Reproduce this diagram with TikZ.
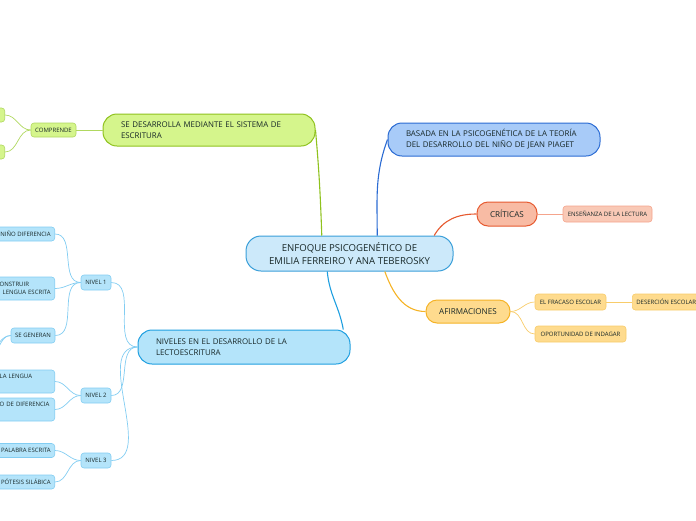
\documentclass[tikz,border=0pt]{standalone}
\usepackage{fontspec}
\setmainfont{Open Sans}
\usepackage{tikz}
\definecolor{inkdark}{RGB}{24,40,40}
\definecolor{rootfill}{RGB}{204,233,250}
\definecolor{rootline}{RGB}{58,159,217}
\definecolor{limefill}{RGB}{213,245,140}
\definecolor{limeline}{RGB}{143,194,30}
\definecolor{limeleaf}{RGB}{176,216,96}
\definecolor{skyfill}{RGB}{168,203,248}
\definecolor{skyline}{RGB}{43,107,211}
\definecolor{coralfill}{RGB}{248,187,164}
\definecolor{coralline}{RGB}{230,90,48}
\definecolor{coralleaf}{RGB}{245,164,140}
\definecolor{goldfill}{RGB}{254,219,142}
\definecolor{goldline}{RGB}{245,179,38}
\definecolor{goldleaf}{RGB}{248,204,106}
\definecolor{aquafill}{RGB}{180,228,250}
\definecolor{aqualine}{RGB}{31,159,224}
\definecolor{aqualeaf}{RGB}{130,205,242}

\begin{document}
\begin{tikzpicture}[
    x={(1pt,0pt)}, y={(0pt,-1pt)},
    root/.style={draw=rootline, fill=rootfill, line width=1pt, rounded corners=15pt, minimum width=207pt, minimum height=35pt, align=center, font=\fontsize{9.6}{13.5}\selectfont, text=inkdark},
    branch/.style={draw, line width=1pt, rounded corners=14pt, text width=176pt, inner xsep=18pt, minimum height=33pt, align=left, font=\fontsize{7.9}{11}\selectfont, text=inkdark},
    topic/.style={draw, line width=1pt, rounded corners=11pt, minimum height=23pt, align=center, font=\fontsize{8.1}{10}\selectfont, text=inkdark},
    leaf/.style={draw, line width=0.6pt, rounded corners=3pt, minimum height=15pt, inner xsep=4pt, inner ysep=2pt, align=left, font=\fontsize{6}{7.8}\selectfont, text=inkdark},
    link/.style={line width=1.1pt},
    twig/.style={line width=0.7pt},
]
\clip (0,0) rectangle (696,520);

\node[root] (enfoque) at (349.5,253.5) {ENFOQUE PSICOGENÉTICO DE\\EMILIA FERREIRO Y ANA TEBEROSKY};

% upper left branch
\node[branch, draw=limeline, fill=limefill, minimum height=32pt] (desarrolla) at (209,130) {SE DESARROLLA MEDIANTE EL SISTEMA DE\\ESCRITURA};
\node[leaf, draw=limeleaf, fill=limefill, minimum width=45pt, minimum height=14pt] (comprende) at (53.5,130) {COMPRENDE};
\node[leaf, draw=limeleaf, fill=limefill, minimum width=30pt, minimum height=14pt, anchor=east] (comp1) at (5,115) {};
\node[leaf, draw=limeleaf, fill=limefill, minimum width=30pt, minimum height=14pt, anchor=east] (comp2) at (5,152) {};

% upper right branches
\node[branch, draw=skyline, fill=skyfill] (basada) at (494,139.5) {BASADA EN LA PSICOGENÉTICA DE LA TEORÍA\\DEL DESARROLLO DEL NIÑO DE JEAN PIAGET};
\node[topic, draw=coralline, fill=coralfill, minimum width=60pt, minimum height=24pt] (criticas) at (507,214) {CRÍTICAS};
\node[leaf, draw=coralleaf, fill=coralfill!80!white, minimum width=89pt, minimum height=16pt] (ensenanza) at (607.5,214) {ENSEÑANZA DE LA LECTURA};

% afirmaciones
\node[topic, draw=goldline, fill=goldfill, minimum width=84pt] (afirm) at (468,311.5) {AFIRMACIONES};
\node[leaf, draw=goldleaf, fill=goldfill, minimum width=71pt, minimum height=16pt] (fracaso) at (570.5,302) {EL FRACASO ESCOLAR};
\node[leaf, draw=goldleaf, fill=goldfill, minimum width=91pt, minimum height=16pt] (indagar) at (580.5,334) {OPORTUNIDAD DE INDAGAR};
\node[leaf, draw=goldleaf, fill=goldfill, minimum height=16pt, anchor=west] (desercion) at (632,302) {DESERCIÓN ESCOLAR};

% niveles
\node[branch, draw=aqualine, fill=aquafill, minimum height=34pt] (niveles) at (244,347) {NIVELES EN EL DESARROLLO DE LA\\LECTOESCRITURA};
\node[leaf, draw=aqualeaf, fill=aquafill, minimum width=30pt] (nivel1) at (96,282.5) {NIVEL 1};
\node[leaf, draw=aqualeaf, fill=aquafill, minimum width=30pt] (nivel2) at (96,395.5) {NIVEL 2};
\node[leaf, draw=aqualeaf, fill=aquafill, minimum width=30pt] (nivel3) at (96,460.5) {NIVEL 3};

\node[leaf, draw=aqualeaf, fill=aquafill, minimum height=14pt, anchor=east] (diferencia) at (55,234) {NIÑO DIFERENCIA};
\node[leaf, draw=aqualeaf, fill=aquafill, minimum height=23pt, text width=51pt, anchor=east] (construir) at (55,288.5) {ONSTRUIR\\\hspace{3pt}LENGUA ESCRITA};
\node[leaf, draw=aqualeaf, fill=aquafill, minimum width=44pt] (generan) at (33,335.5) {SE GENERAN};
\coordinate (gen1) at (-12,349);
\coordinate (gen2) at (-12,356);
\node[leaf, draw=aqualeaf, fill=aquafill, minimum height=23pt, text width=51pt, anchor=east] (lengua) at (55,381.5) {LA LENGUA\\\strut};
\node[leaf, draw=aqualeaf, fill=aquafill, minimum height=23pt, text width=51pt, anchor=east] (grado) at (55,409.5) {O DE DIFERENCIA\\\strut};
\node[leaf, draw=aqualeaf, fill=aquafill, minimum height=14pt, anchor=east] (palabra) at (55,450.5) {PALABRA ESCRITA};
\node[leaf, draw=aqualeaf, fill=aquafill, minimum height=14pt, anchor=east] (hipotesis) at (55,482) {PÓTESIS SILÁBICA};

% connectors from the centre
\draw[link, draw=limeline] (desarrolla.east) to[out=-85, in=92] (enfoque.147);
\draw[link, draw=skyline] (basada.west) to[out=-110, in=90] (enfoque.33);
\draw[link, draw=coralline] (enfoque.12) to[out=60, in=180] (criticas.west);
\draw[link, draw=goldline] (enfoque.-27) to[out=-70, in=180] (afirm.west);
\draw[link, draw=aqualine] (enfoque.-141) to[out=-85, in=100] (niveles.10);

% sub-branches
\draw[twig, draw=limeleaf] (desarrolla.west) -- (comprende.east);
\draw[twig, draw=limeleaf] (comprende.west) to[out=180, in=0] (comp1.east);
\draw[twig, draw=limeleaf] (comprende.west) to[out=180, in=0] (comp2.east);
\draw[twig, draw=coralleaf] (criticas.east) -- (ensenanza.west);
\draw[twig, draw=goldleaf] (afirm.east) to[out=0, in=180] (fracaso.west);
\draw[twig, draw=goldleaf] (afirm.east) to[out=0, in=180] (indagar.west);
\draw[twig, draw=goldleaf] (fracaso.east) -- (desercion.west);
\draw[twig, draw=aqualeaf] (niveles.west) to[out=180, in=0] (nivel1.east);
\draw[twig, draw=aqualeaf] (niveles.west) to[out=180, in=0] (nivel2.east);
\draw[twig, draw=aqualeaf] (niveles.west) to[out=180, in=0] (nivel3.east);
\draw[twig, draw=aqualeaf] (nivel1.west) to[out=180, in=0] (diferencia.east);
\draw[twig, draw=aqualeaf] (nivel1.west) to[out=180, in=0] (construir.east);
\draw[twig, draw=aqualeaf] (nivel1.west) to[out=180, in=0] (generan.east);
\draw[twig, draw=aqualeaf] (generan.west) to[out=180, in=0] (gen1);
\draw[twig, draw=aqualeaf] (generan.west) to[out=180, in=0] (gen2);
\draw[twig, draw=aqualeaf] (nivel2.west) to[out=180, in=0] (lengua.east);
\draw[twig, draw=aqualeaf] (nivel2.west) to[out=180, in=0] (grado.east);
\draw[twig, draw=aqualeaf] (nivel3.west) to[out=180, in=0] (palabra.east);
\draw[twig, draw=aqualeaf] (nivel3.west) to[out=180, in=0] (hipotesis.east);
\end{tikzpicture}
\end{document}
